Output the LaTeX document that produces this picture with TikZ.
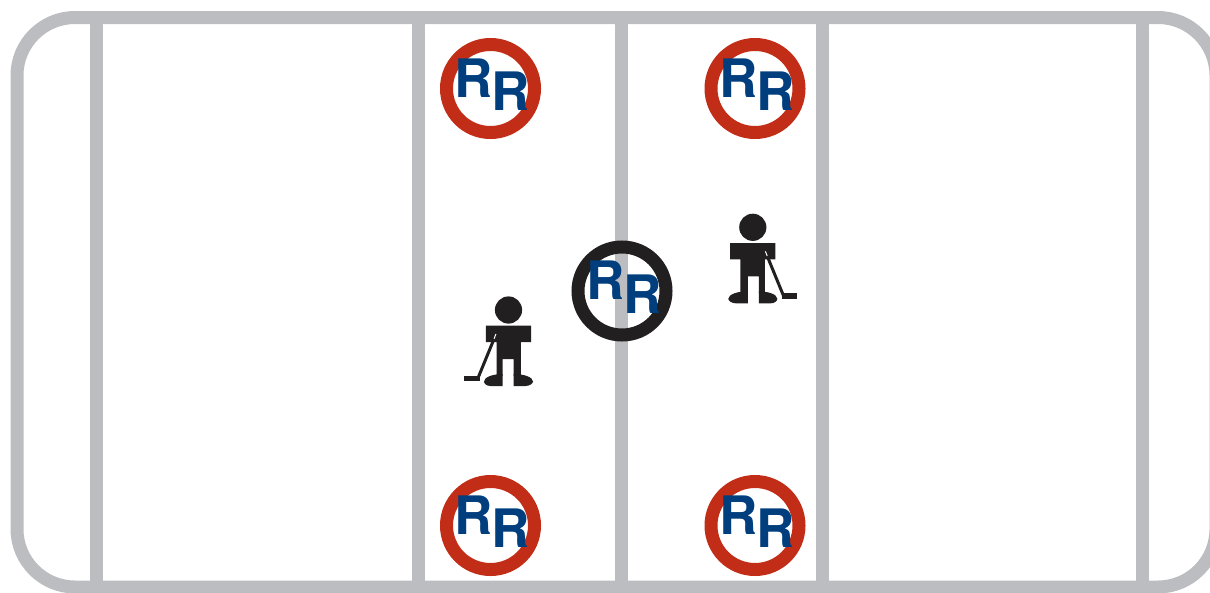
\documentclass[tikz,border=0pt]{standalone}
\usepackage{fontspec}
\setmainfont{TeX Gyre Heros}
\definecolor{rink}{HTML}{BCBDC1}
\definecolor{ringred}{HTML}{C22D17}
\definecolor{ringblack}{HTML}{221F20}
\definecolor{rrblue}{HTML}{003E7E}
\tikzset{
  rinkline/.style={draw=rink,line width=13pt},
  letter/.style={font=\fontsize{53}{53}\selectfont\bfseries,text=rrblue,inner sep=0pt,anchor=base west},
  pics/rrmark/.style={code={
    \draw[line width=13pt,draw=#1] (0,0) circle[radius=44];
    \node[letter] (-a) at (-36,8.5) {R};
    \node[letter] (-b) at (1,22) {R};
  }},
  pics/player/.style={code={
    \fill[ringblack] (0,0) circle[radius=13.6];
    \fill[ringblack] (-22.6,15.7) -- (22.6,15.7) -- (22.6,32) -- (12.4,32) -- (12.4,66)
      -- (5,66) -- (5,49) -- (-6,49) -- (-6,66) -- (-12,66) -- (-12,32) -- (-22.6,32) -- cycle;
    \fill[ringblack] (-6,64) -- (-6,76) -- (-18,76) .. controls (-22,76) and (-24.5,73.5) .. (-24.5,71.5)
      .. controls (-24.5,67) and (-15,64) .. (-6,64) -- cycle;
    \fill[ringblack] (5,64) -- (5,76) -- (17,76) .. controls (21,76) and (24.5,73.5) .. (24.5,71.5)
      .. controls (24.5,67) and (15,64) .. (5,64) -- cycle;
    \draw[white,line width=1pt] (-12.6,24) -- (-14.5,29);
    \draw[ringblack,line width=3pt] (-14.5,29) -- (-30.5,68);
    \fill[ringblack] (-44.5,66) -- (-29,66) -- (-29,71.3) -- (-44.5,71.3) -- cycle;
  }}
}
\begin{document}
\begin{tikzpicture}[x=1pt,y=-1pt]
\useasboundingbox (0,0) rectangle (1210,592);
\clip (0,0) rectangle (1210,592);
\draw[rinkline] (17,17.5) ++(58,0) -- (1158,17.5) arc[start angle=-90,end angle=0,radius=58]
  -- (1216,529) arc[start angle=0,end angle=90,radius=58]
  -- (75,587) arc[start angle=90,end angle=180,radius=58]
  -- (17,75.5) arc[start angle=180,end angle=270,radius=58] -- cycle;
\foreach \x/\n in {96.5/a,418.5/b,621.5/c,822/d,1142/e}{
  \coordinate (t\n) at (\x,17.5);
  \coordinate (u\n) at (\x,587);
  \draw[rinkline] (t\n) -- (u\n);
}
\pic (m1) at (490.5,88.5) {rrmark=ringred};
\pic (m2) at (755,88.5) {rrmark=ringred};
\pic (m3) at (490.5,525.5) {rrmark=ringred};
\pic (m4) at (755,525.5) {rrmark=ringred};
\pic (m5) at (622,291) {rrmark=ringblack};
\pic (p1) at (508.5,310) {player};
\pic[xscale=-1] (p2) at (752.8,227.3) {player};
\end{tikzpicture}
\end{document}
